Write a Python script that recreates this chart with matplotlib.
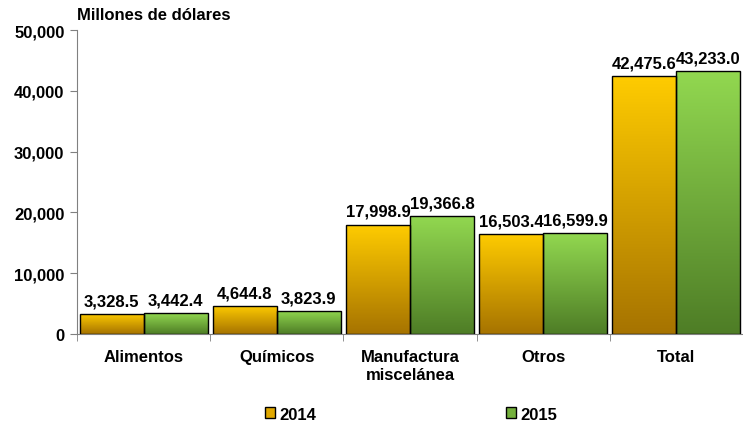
import numpy as np
import matplotlib.pyplot as plt
from matplotlib.colors import LinearSegmentedColormap
from matplotlib.patches import Patch

plt.rcParams['font.family'] = ['Liberation Sans', 'DejaVu Sans']
plt.rcParams['font.weight'] = 'bold'

categories = ['Alimentos', 'Químicos', 'Manufactura\nmiscelánea', 'Otros', 'Total']
v2014 = [3328.5, 4644.8, 17998.9, 16503.4, 42475.6]
v2015 = [3442.4, 3823.9, 19366.8, 16599.9, 43233.0]

fig = plt.figure(figsize=(7.43, 4.27), dpi=100)
ax = fig.add_axes([0.1036, 0.2155, 0.8964, 0.7119])

orange = LinearSegmentedColormap.from_list('o', ['#a67300', '#ffcc00'])
green = LinearSegmentedColormap.from_list('g', ['#4e7d26', '#92d850'])
grad = np.linspace(0, 1, 256).reshape(-1, 1)

x = np.arange(len(categories))
w = 0.48
bars1 = ax.bar(x - w / 2, v2014, w, facecolor='none', edgecolor='black', linewidth=1, zorder=3)
bars2 = ax.bar(x + w / 2, v2015, w, facecolor='none', edgecolor='black', linewidth=1, zorder=3)

# gradient fill clipped to each bar
for bars, cmap in [(bars1, orange), (bars2, green)]:
    for b in bars:
        x0, y0 = b.get_x(), b.get_y()
        im = ax.imshow(grad, cmap=cmap, origin='lower', aspect='auto',
                       extent=[x0, x0 + b.get_width(), y0, y0 + b.get_height()], zorder=2)
        im.set_clip_path(b)

for bars, vals in [(bars1, v2014), (bars2, v2015)]:
    for b, v in zip(bars, vals):
        ax.annotate(f'{v:,.1f}', (b.get_x() + b.get_width() / 2, v), xytext=(0, 4),
                    textcoords='offset points', ha='center', va='bottom',
                    fontsize=12, fontweight='bold')

ax.set_xlim(-0.5, len(categories) - 0.5)
ax.set_ylim(0, 50000)
ax.set_yticks(range(0, 50001, 10000))
ax.set_yticklabels([f'{t:,}' for t in range(0, 50001, 10000)], fontsize=12, fontweight='bold')
ax.set_xticks(x)
ax.set_xticklabels(categories, fontsize=12, fontweight='bold')
ax.set_xticks(np.arange(-0.5, len(categories), 1), minor=True)
ax.tick_params(axis='x', which='major', length=0, pad=11)
ax.tick_params(axis='x', which='minor', length=5, color='#808080')
ax.tick_params(axis='y', length=5, color='#808080', pad=4)
for s in ['top', 'right']:
    ax.spines[s].set_visible(False)
ax.spines['left'].set_color('#808080')
ax.spines['bottom'].set_color('#808080')

fig.text(0.104, 0.963, 'Millones de dólares', fontsize=12, fontweight='bold', va='center')

handles = [Patch(facecolor='#e0a800', edgecolor='black', label='2014'),
           Patch(facecolor='#74b03c', edgecolor='black', label='2015')]
fig.legend(handles=handles, loc='center', bbox_to_anchor=(0.553, 0.028), ncol=2, frameon=False,
           handlelength=0.6, handleheight=0.6, handletextpad=0.25, columnspacing=11.4,
           prop={'weight': 'bold', 'size': 12})

fig.savefig('out.png', dpi=100)
